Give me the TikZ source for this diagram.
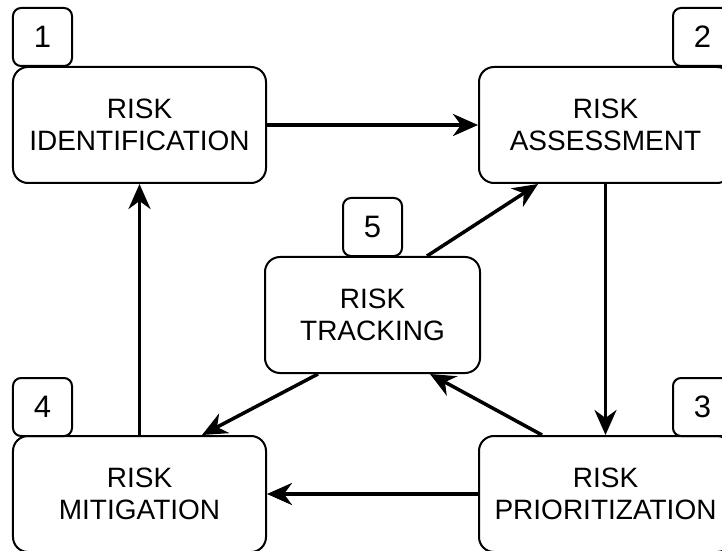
\documentclass[tikz,border=0pt]{standalone}
\usepackage{fontspec}
\setmainfont{Liberation Sans}
\usetikzlibrary{arrows.meta}
\begin{document}
\begin{tikzpicture}[x=1bp,y=-1bp,
  stagebox/.style={draw, line width=2bp, rounded corners=15bp, fill=white,
    minimum width=253bp, minimum height=116bp, inner sep=0pt,
    align=center, font=\fontsize{28bp}{32bp}\selectfont},
  numbox/.style={draw, line width=2bp, rounded corners=8bp, fill=white,
    minimum width=59bp, minimum height=58bp, inner sep=0pt,
    font=\fontsize{31bp}{36bp}\selectfont},
  flow/.style={line width=3.5bp, -{Stealth[length=25bp,width=22bp,inset=8bp]}}]
  \clip (0,0) rectangle (722,551);
  \fill[white] (0,0) rectangle (722,551);

  % the five stages of the cycle
  \node[stagebox] (ident)  at (139.5,125) {RISK\\IDENTIFICATION};
  \node[stagebox] (assess) at (605.5,125) {RISK\\ASSESSMENT};
  \node[stagebox] (prio)   at (605.5,494) {RISK\\PRIORITIZATION};
  \node[stagebox] (mitig)  at (139.5,494) {RISK\\MITIGATION};
  \node[stagebox, minimum width=215bp] (track) at (372.5,315) {RISK\\TRACKING};

  % step numbers
  \node[numbox] (num1) at (42.5,37)   {1};
  \node[numbox] (num2) at (702.5,37)  {2};
  \node[numbox] (num3) at (702.5,407) {3};
  \node[numbox] (num4) at (42.5,407)  {4};
  \node[numbox] (num5) at (372.5,227) {5};

  % outer loop
  \draw[flow] (ident.east) -- (assess.west);
  \draw[flow] (assess.south) -- (prio.north);
  \draw[flow] (prio.west) -- (mitig.east);
  \draw[flow] (mitig.north) -- (ident.south);

  % links through tracking
  \draw[flow] ([xshift=54.5bp]track.north) -- ([xshift=-67.5bp]assess.south);
  \draw[flow] ([xshift=-63.5bp]prio.north) -- ([xshift=57.5bp]track.south);
  \draw[flow] ([xshift=-54.5bp]track.south) -- ([xshift=62.5bp]mitig.north);
\end{tikzpicture}
\end{document}
